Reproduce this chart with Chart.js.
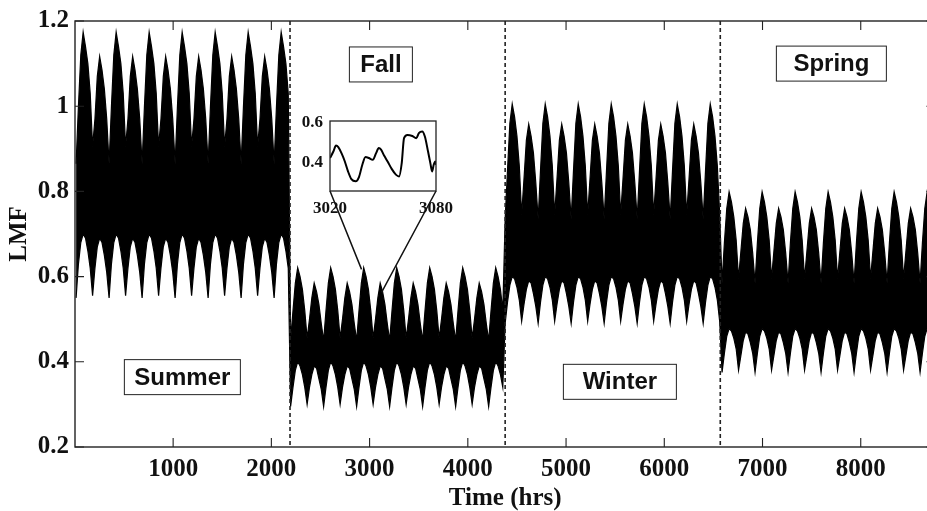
<!DOCTYPE html>
<html>
<head>
<meta charset="utf-8">
<title>LMF</title>
<script src="https://cdn.jsdelivr.net/npm/chart.js@4.4.1/dist/chart.umd.min.js"></script>
<style>
  html, body { margin: 0; padding: 0; background: #fff; overflow: hidden; }
  #wrap { position: relative; width: 927px; height: 511px; overflow: hidden; }
  #lmf { position: absolute; left: 0; top: 0; }
  #zoom { position: absolute; left: 280px; top: 100px; }
</style>
</head>
<body>
<div id="wrap">
  <canvas id="lmf" width="937" height="511"></canvas>
  <canvas id="zoom" width="180" height="125"></canvas>
</div>
<script>
// hours per season, seasons in plotting order
const seasonLength = 2190;
const seasons = ["Summer", "Fall", "Winter", "Spring"];

// daily max / min of the load multiplier over a repeating two-week cycle
const summerHigh = [0.865, 1.00, 1.12, 1.174, 1.14, 1.10, 1.03, 0.905, 0.97, 1.07, 1.117, 1.085, 1.04, 0.97];
const summerLow  = [0.55, 0.63, 0.68, 0.70, 0.69, 0.66, 0.62, 0.555, 0.62, 0.67, 0.69, 0.68, 0.65, 0.61];
const fallHigh   = [0.45, 0.52, 0.585, 0.621, 0.60, 0.57, 0.52, 0.455, 0.50, 0.55, 0.585, 0.565, 0.535, 0.49];
const fallLow    = [0.295, 0.34, 0.38, 0.40, 0.39, 0.37, 0.34, 0.30, 0.34, 0.37, 0.39, 0.385, 0.36, 0.335];
const winterHigh = [0.735, 0.85, 0.96, 1.005, 0.975, 0.93, 0.86, 0.745, 0.83, 0.92, 0.958, 0.93, 0.89, 0.82];
const winterLow  = [0.49, 0.54, 0.58, 0.60, 0.595, 0.575, 0.545, 0.495, 0.535, 0.57, 0.59, 0.585, 0.56, 0.53];
const springHigh = [0.585, 0.68, 0.76, 0.799, 0.775, 0.74, 0.685, 0.595, 0.66, 0.725, 0.76, 0.74, 0.71, 0.655];
const springLow  = [0.375, 0.42, 0.46, 0.478, 0.472, 0.455, 0.43, 0.38, 0.415, 0.45, 0.47, 0.465, 0.445, 0.42];

// zoomed window 3020-3080 hrs
const zoomHours = [3020, 3021.9, 3023.4, 3024.7, 3026.5, 3028.4, 3030.2, 3032.1, 3034.5, 3036.4, 3038.3,
  3040.1, 3042, 3044.2, 3046.1, 3047.6, 3048.9, 3050.7, 3052.6, 3055, 3057.3, 3059.1, 3060.6, 3061.9,
  3063.8, 3066.6, 3068.8, 3070.3, 3072.2, 3073.7, 3075.5, 3076.8, 3077.8, 3078.7, 3079.6, 3080];
const zoomLMF = [0.425, 0.457, 0.487, 0.479, 0.449, 0.408, 0.359, 0.321, 0.31, 0.331, 0.392,
  0.43, 0.425, 0.416, 0.449, 0.474, 0.466, 0.436, 0.408, 0.37, 0.343, 0.334, 0.40, 0.523,
  0.539, 0.534, 0.523, 0.548, 0.556, 0.531, 0.457, 0.40, 0.359, 0.392, 0.408, 0.392];

const xTicks = [1000, 2000, 3000, 4000, 5000, 6000, 7000, 8000];
const yTicks = [0.2, 0.4, 0.6, 0.8, 1, 1.2];
const zoomXTicks = [3020, 3080];
const zoomYTicks = [0.4, 0.6];

const profiles = [
  [summerHigh, summerLow],
  [fallHigh, fallLow],
  [winterHigh, winterLow],
  [springHigh, springLow],
];

// daily envelope: max and min at the middle of each day
const dayHigh = [];
const dayLow = [];
for (let d = 0; d < 365; d++) {
  const h = d * 24 + 12;
  const s = Math.min(3, Math.floor(h / seasonLength));
  const i = Math.floor((h - s * seasonLength) / 24) % 14;
  dayHigh.push({ x: h, y: profiles[s][0][i] });
  dayLow.push({ x: h, y: profiles[s][1][i] });
}

const ink = "#111";
const axisFont = { family: "'Liberation Serif', 'Times New Roman', serif", size: 25, weight: "bold" };
const zoomFont = { family: "'Liberation Serif', 'Times New Roman', serif", size: 17, weight: "bold" };

// season captions: centre in data units, box size in px
const notes = [
  { text: "Summer", x: 1094, y: 0.364, w: 117, h: 36 },
  { text: "Fall", x: 3115, y: 1.098, w: 64, h: 36 },
  { text: "Winter", x: 5548, y: 0.353, w: 114, h: 36 },
  { text: "Spring", x: 7701, y: 1.100, w: 111, h: 36 },
];
// where the zoom box connectors meet the trace
const connectors = [{ x: 2918, y: 0.617 }, { x: 3122, y: 0.563 }];
const zoomOffset = { left: 280, top: 100 };

function fixedTicks(list) {
  return (scale) => { scale.ticks = list.map((v) => ({ value: v })); };
}

const insetFrame = {
  id: "insetFrame",
  beforeDatasetsDraw(chart) {
    const { ctx, chartArea: a } = chart;
    ctx.save();
    ctx.fillStyle = "#fff";
    ctx.fillRect(a.left, a.top, a.right - a.left, a.bottom - a.top);
    ctx.restore();
  },
  afterDatasetsDraw(chart) {
    const { ctx, chartArea: a } = chart;
    ctx.save();
    ctx.strokeStyle = "#222";
    ctx.lineWidth = 1.3;
    ctx.strokeRect(a.left, a.top, a.right - a.left, a.bottom - a.top);
    ctx.restore();
  },
};

const inset = new Chart(document.getElementById("zoom"), {
  type: "line",
  data: {
    datasets: [{
      data: zoomHours.map((h, i) => ({ x: h, y: zoomLMF[i] })),
      borderColor: "#000",
      borderWidth: 2,
      pointRadius: 0,
      cubicInterpolationMode: "monotone",
    }],
  },
  options: {
    responsive: false,
    animation: false,
    events: [],
    layout: { padding: { left: 0, top: 21, right: 23, bottom: 0 } },
    plugins: { legend: { display: false }, tooltip: { enabled: false } },
    scales: {
      x: {
        type: "linear", min: 3020, max: 3080,
        afterBuildTicks: fixedTicks(zoomXTicks),
        afterFit: (s) => { s.height = 34; },
        grid: { display: false, drawTicks: false }, border: { display: false },
        ticks: { color: ink, font: zoomFont, padding: 7, maxRotation: 0, autoSkip: false,
                 callback: (v) => String(v) },
      },
      y: {
        min: 0.262, max: 0.608,
        afterBuildTicks: fixedTicks(zoomYTicks),
        afterFit: (s) => { s.width = 50; },
        grid: { display: false, drawTicks: false }, border: { display: false },
        ticks: { color: ink, font: zoomFont, padding: 7, callback: (v) => String(v) },
      },
    },
  },
  plugins: [insetFrame],
});

const decorations = {
  id: "decorations",
  afterDatasetsDraw(chart) {
    const { ctx, chartArea: a, scales } = chart;
    const xs = scales.x, ys = scales.y;
    ctx.save();

    // season boundaries
    ctx.strokeStyle = "#222";
    ctx.lineWidth = 1.6;
    ctx.setLineDash([4, 3]);
    for (let s = 1; s < seasons.length; s++) {
      const px = xs.getPixelForValue(s * seasonLength);
      ctx.beginPath();
      ctx.moveTo(px, a.top);
      ctx.lineTo(px, a.bottom);
      ctx.stroke();
    }
    ctx.setLineDash([]);

    // box and inward ticks
    ctx.strokeStyle = "#222";
    ctx.lineWidth = 1.4;
    ctx.strokeRect(a.left, a.top, a.right - a.left, a.bottom - a.top);
    ctx.lineWidth = 1.1;
    ctx.beginPath();
    for (const v of xTicks) {
      const px = xs.getPixelForValue(v);
      ctx.moveTo(px, a.bottom); ctx.lineTo(px, a.bottom - 9);
      ctx.moveTo(px, a.top); ctx.lineTo(px, a.top + 9);
    }
    for (const v of yTicks) {
      const py = ys.getPixelForValue(v);
      ctx.moveTo(a.left, py); ctx.lineTo(a.left + 9, py);
      ctx.moveTo(a.right, py); ctx.lineTo(a.right - 9, py);
    }
    ctx.stroke();

    // zoom connectors
    const z = inset.chartArea;
    const corners = [
      [zoomOffset.left + z.left, zoomOffset.top + z.bottom],
      [zoomOffset.left + z.right, zoomOffset.top + z.bottom],
    ];
    ctx.strokeStyle = "#111";
    ctx.lineWidth = 1.5;
    ctx.beginPath();
    connectors.forEach((c, i) => {
      ctx.moveTo(corners[i][0], corners[i][1]);
      ctx.lineTo(xs.getPixelForValue(c.x), ys.getPixelForValue(c.y));
    });
    ctx.stroke();

    // season captions
    ctx.font = "bold 24px 'Liberation Sans', Arial, sans-serif";
    ctx.textAlign = "center";
    ctx.textBaseline = "middle";
    for (const n of notes) {
      const cx = xs.getPixelForValue(n.x);
      const cy = ys.getPixelForValue(n.y);
      ctx.fillStyle = "#fff";
      ctx.fillRect(cx - n.w / 2, cy - n.h / 2, n.w, n.h);
      ctx.strokeStyle = "#222";
      ctx.lineWidth = 1;
      ctx.strokeRect(cx - n.w / 2 + 0.5, cy - n.h / 2 + 0.5, n.w - 1, n.h - 1);
      ctx.fillStyle = ink;
      ctx.fillText(n.text, cx, cy + 1);
    }
    ctx.restore();
  },
};

new Chart(document.getElementById("lmf"), {
  type: "line",
  data: {
    datasets: [
      {
        label: "LMF max",
        data: dayHigh,
        borderColor: "#000",
        borderWidth: 1.2,
        pointRadius: 0,
        tension: 0,
        fill: false,
      },
      {
        label: "LMF min",
        data: dayLow,
        borderColor: "#000",
        backgroundColor: "#000",
        borderWidth: 1.2,
        pointRadius: 0,
        tension: 0,
        fill: "-1",
      },
    ],
  },
  options: {
    responsive: false,
    animation: false,
    events: [],
    layout: { padding: { left: 0, top: 16, right: 1.6, bottom: 0 } },
    plugins: { legend: { display: false }, tooltip: { enabled: false } },
    scales: {
      x: {
        type: "linear", min: 1, max: 8760,
        afterBuildTicks: fixedTicks(xTicks),
        afterFit: (s) => { s.height = 64; },
        grid: { display: false, drawTicks: false }, border: { display: false },
        ticks: { color: ink, font: axisFont, padding: 8, maxRotation: 0, autoSkip: false,
                 callback: (v) => String(v) },
        title: { display: true, text: "Time (hrs)", color: ink, font: axisFont, padding: { top: 0, bottom: -3 } },
      },
      y: {
        min: 0.2, max: 1.2,
        afterBuildTicks: fixedTicks(yTicks),
        afterFit: (s) => { s.width = 75; },
        grid: { display: false, drawTicks: false }, border: { display: false },
        ticks: { color: ink, font: axisFont, padding: 6, callback: (v) => String(v) },
        title: { display: true, text: "LMF", color: ink, font: axisFont, padding: { top: 5, bottom: 0 } },
      },
    },
  },
  plugins: [decorations],
});
</script>
</body>
</html>
